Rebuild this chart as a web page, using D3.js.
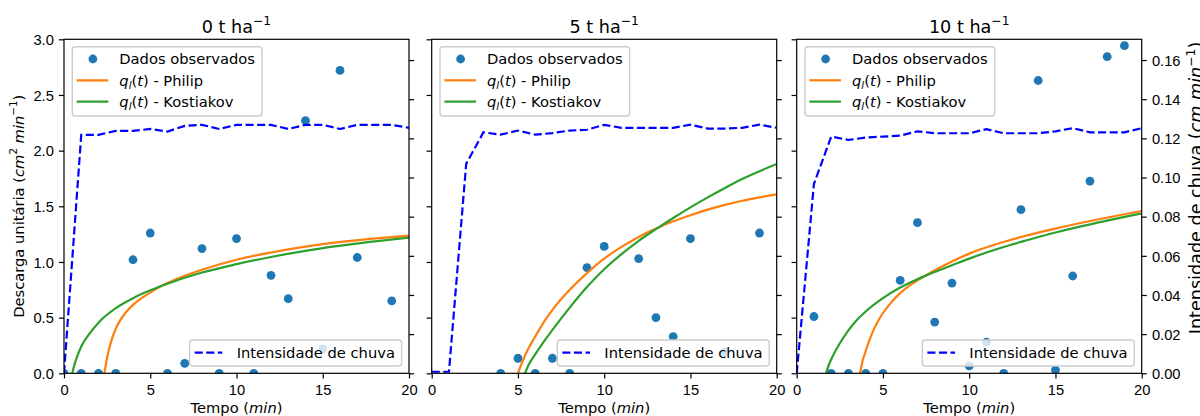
<!DOCTYPE html>
<html>
<head>
<meta charset="utf-8">
<title>Descarga unitária x tempo</title>
<script src="https://d3js.org/d3.v7.min.js"></script>
<style>
    html, body { margin: 0; padding: 0; background: #fff; }
    svg { display: block; font-family: "DejaVu Sans", sans-serif; }
    .tick text { font-size: 14.7px; fill: #000; }
    .tick line { stroke: #000; stroke-width: 1.2px; }
    .frame { fill: none; stroke: #000; stroke-width: 1.2px; }
    .leg-box { fill: #fff; fill-opacity: 0.8; stroke: #ccc; stroke-width: 1.4px; }
    .leg-text { font-size: 14.7px; fill: #000; }
    .title { font-size: 17.6px; text-anchor: middle; }
    .label { font-size: 14.7px; text-anchor: middle; }
</style>
</head>
<body>
<svg width="1200" height="416"></svg>
<script>
    // tempo (min)
    let tempo = [0, 1, 2, 3, 4, 5, 6, 7, 8, 9, 10, 11, 12, 13, 14, 15, 16, 17, 18, 19, 20];
    let titulos = ['0', '5', '10'];

    // dados observados (cm2 min-1), null = sem ponto
    let obs0  = [0, 0, 0, 0, 1.02, 1.26, 0, 0.09, 1.12, 0, 1.21, 0, 0.88, 0.67, 2.27, 0.22, 2.72, 1.04, null, 0.65, null];
    let obs5  = [null, null, null, null, 0, 0.135, 0, 0.135, 0, 0.95, 1.14, null, 1.03, 0.50, 0.33, 1.21, null, 0.19, null, 1.26, null];
    let obs10 = [null, 0.51, 0, 0, 0, 0, 0.835, 1.353, 0.46, 0.81, 0.066, 0.28, 0, 1.47, 2.63, 0.03, 0.874, 1.727, 2.844, 2.943, null];

    // curvas ajustadas [t, q]
    let philip0 = [[2.34, 0], [2.5, 0.14], [2.76, 0.30], [3, 0.40], [3.27, 0.48], [3.6, 0.55], [4, 0.615], [4.54, 0.68],
                   [5, 0.725], [5.66, 0.785], [6.5, 0.845], [8, 0.93], [10, 1.02], [12, 1.085], [15, 1.16], [20, 1.237]];
    let kost0   = [[0.48, 0], [0.6, 0.075], [0.75, 0.145], [1, 0.24], [1.5, 0.36], [2, 0.455], [3, 0.585], [4, 0.675],
                   [5, 0.745], [6, 0.805], [8, 0.905], [10, 0.98], [12, 1.045], [15, 1.125], [20, 1.219]];
    let philip5 = [[5, 0], [5.3, 0.12], [5.6, 0.22], [6, 0.33], [6.5, 0.46], [7, 0.57], [7.5, 0.665], [8, 0.75], [9, 0.9],
                   [10, 1.03], [11, 1.135], [12, 1.225], [12.7, 1.28], [13, 1.30], [14, 1.365], [15, 1.42], [16, 1.47],
                   [17, 1.513], [18, 1.55], [19, 1.58], [20, 1.608]];
    let kost5   = [[5.41, 0], [5.6, 0.07], [6, 0.17], [6.5, 0.285], [7, 0.39], [8, 0.59], [9, 0.775], [10, 0.935], [11, 1.07],
                   [12, 1.19], [13, 1.295], [14, 1.395], [15, 1.49], [16, 1.58], [17, 1.665], [18, 1.745], [19, 1.815], [20, 1.88]];
    let philip10 = [[3.67, 0], [3.8, 0.1], [4, 0.2], [4.4, 0.37], [4.79, 0.49], [5.5, 0.64], [6, 0.72], [7, 0.835], [7.44, 0.875],
                    [8, 0.925], [9, 1.005], [10, 1.075], [12, 1.18], [15, 1.30], [20, 1.458]];
    let kost10   = [[1.7, 0], [1.85, 0.07], [2, 0.125], [2.5, 0.27], [3, 0.385], [3.5, 0.48], [4, 0.555], [5, 0.675], [6, 0.77],
                    [7, 0.845], [7.44, 0.875], [8, 0.91], [9, 0.97], [10, 1.03], [11, 1.085], [12, 1.135], [13, 1.18],
                    [15, 1.265], [17.5, 1.355], [20, 1.437]];

    // intensidade de chuva (cm min-1)
    let chuva0  = [0, 0.1218, 0.1218, 0.1238, 0.1238, 0.1248, 0.1235, 0.1264, 0.1269, 0.1248, 0.1269, 0.1269, 0.1269, 0.1248, 0.1269, 0.1269, 0.1248, 0.1269, 0.1269, 0.1269, 0.1254];
    let chuva5  = [0.0008, 0.0008, 0.107, 0.1231, 0.1219, 0.124, 0.1219, 0.1227, 0.124, 0.1244, 0.1269, 0.1254, 0.1254, 0.1254, 0.1254, 0.127, 0.125, 0.125, 0.1254, 0.127, 0.1254];
    let chuva10 = [0, 0.0968, 0.1209, 0.1192, 0.1204, 0.1209, 0.1214, 0.1236, 0.1226, 0.1226, 0.1226, 0.1247, 0.1226, 0.1226, 0.1226, 0.1236, 0.1252, 0.1231, 0.1231, 0.1231, 0.1252];

    let xTicks = [0, 5, 10, 15, 20];
    let yTicks = [0, 0.5, 1, 1.5, 2, 2.5, 3];
    let rTicks = [0, 0.02, 0.04, 0.06, 0.08, 0.10, 0.12, 0.14, 0.16];

    let paineis = [
        {titulo: titulos[0], obs: obs0, philip: philip0, kost: kost0, chuva: chuva0},
        {titulo: titulos[1], obs: obs5, philip: philip5, kost: kost5, chuva: chuva5},
        {titulo: titulos[2], obs: obs10, philip: philip10, kost: kost10, chuva: chuva10}
    ];

    let svg = d3.select('svg');
    let lefts = [64, 431.7, 796.7];
    let W = 345, yTop = 39.3, yBot = 373.3;
    let fs = 14.7;

    let y = d3.scaleLinear().domain([0, 3]).range([yBot, yTop]);
    let yR = d3.scaleLinear().domain([0, 0.1706]).range([yBot, yTop]);

    // texto com italico / sobrescrito / subscrito
    function richText(sel, segs, size) {
        let shift = 0;
        segs.forEach(s => {
            let ts = sel.append('tspan').text(s.t);
            let target = s.sup ? -0.42 * size : (s.sub ? 0.22 * size : 0);
            ts.attr('dy', target - shift);
            shift = target;
            if (s.sup || s.sub) ts.attr('font-size', 0.7 * size);
            if (s.i) ts.attr('font-style', 'italic');
        });
    }

    let legLabels = [
        [{t: 'Dados observados'}],
        [{t: 'q', i: true}, {t: 'l', i: true, sub: true}, {t: '('}, {t: 't', i: true}, {t: ') - Philip'}],
        [{t: 'q', i: true}, {t: 'l', i: true, sub: true}, {t: '('}, {t: 't', i: true}, {t: ') - Kostiakov'}]
    ];

    paineis.forEach((p, i) => {
        let x0 = lefts[i];
        let x = d3.scaleLinear().domain([0, 20]).range([x0, x0 + W]);
        let g = svg.append('g');
        let clipId = 'clip' + i;
        svg.append('clipPath').attr('id', clipId)
            .append('rect').attr('x', x0).attr('y', yTop).attr('width', W).attr('height', yBot - yTop);

        // eixos
        g.append('g').attr('transform', `translate(0,${yBot})`)
            .call(d3.axisBottom(x).tickValues(xTicks).tickFormat(d3.format('d'))
                .tickSize(5.1).tickPadding(5.1).tickSizeOuter(0));
        g.append('g').attr('transform', `translate(${x0},0)`)
            .call(d3.axisLeft(y).tickValues(yTicks).tickFormat(i == 0 ? d3.format('.1f') : () => '')
                .tickSize(5.1).tickPadding(5.1).tickSizeOuter(0));
        g.append('g').attr('transform', `translate(${x0 + W},0)`)
            .call(d3.axisRight(yR).tickValues(rTicks).tickFormat(i == 2 ? d3.format('.2f') : () => '')
                .tickSize(5.1).tickPadding(5.1).tickSizeOuter(0));
        g.selectAll('.domain').remove();
        g.selectAll('.tick text').attr('dy', function() {
            return d3.select(this).attr('dy') == '0.71em' ? '0.76em' : '0.36em';
        });

        // dados observados
        let pts = tempo.map((t, k) => ({t: t, q: p.obs[k]})).filter(d => d.q != null);
        let plot = g.append('g').attr('clip-path', `url(#${clipId})`);
        plot.selectAll('circle').data(pts).join('circle')
            .attr('cx', d => x(d.t)).attr('cy', d => y(d.q))
            .attr('r', 4.4).attr('fill', '#1f77b4');

        let curva = d3.line().x(d => x(d[0])).y(d => y(d[1])).curve(d3.curveMonotoneX);
        plot.append('path').datum(p.philip).attr('d', curva)
            .attr('fill', 'none').attr('stroke', '#ff7f0e').attr('stroke-width', 2.2);
        plot.append('path').datum(p.kost).attr('d', curva)
            .attr('fill', 'none').attr('stroke', '#2ca02c').attr('stroke-width', 2.2);

        // legenda 1
        let lx = x0 + 8.3, ly = yTop + 7.4;
        let leg1 = g.append('g');
        let box1 = leg1.append('rect').attr('class', 'leg-box')
            .attr('x', lx).attr('y', ly).attr('height', 69.3).attr('rx', 3);
        let maxW = 0;
        legLabels.forEach((segs, k) => {
            let cy = ly + 12.3 + k * 21.3;
            if (k == 0) {
                leg1.append('circle').attr('cx', lx + 20.6).attr('cy', cy).attr('r', 4.4).attr('fill', '#1f77b4');
            } else {
                leg1.append('line').attr('x1', lx + 4.4).attr('x2', lx + 36).attr('y1', cy).attr('y2', cy)
                    .attr('stroke', k == 1 ? '#ff7f0e' : '#2ca02c').attr('stroke-width', 2.2);
            }
            let txt = leg1.append('text').attr('class', 'leg-text')
                .attr('x', lx + 47).attr('y', cy + 0.36 * fs);
            richText(txt, segs, fs);
            maxW = Math.max(maxW, txt.node().getBBox().width);
        });
        box1.attr('width', 47 + maxW + 7);

        // eixo secundario: intensidade de chuva
        let linhaChuva = d3.line().x((d, k) => x(tempo[k])).y(d => yR(d));
        g.append('path').datum(p.chuva).attr('d', linhaChuva).attr('clip-path', `url(#${clipId})`)
            .attr('fill', 'none').attr('stroke', '#0000ff').attr('stroke-width', 2.2)
            .attr('stroke-dasharray', '8.1,3.5');

        // legenda 2
        let leg2 = g.append('g');
        let bBot = yBot - 7.3, bH = 26, cy2 = bBot - 13.3;
        let box2 = leg2.append('rect').attr('class', 'leg-box')
            .attr('y', bBot - bH).attr('height', bH).attr('rx', 3);
        let l2 = leg2.append('line').attr('y1', cy2).attr('y2', cy2)
            .attr('stroke', '#0000ff').attr('stroke-width', 2.2).attr('stroke-dasharray', '8.1,3.5');
        let t2 = leg2.append('text').attr('class', 'leg-text').attr('y', cy2 + 0.36 * fs).text('Intensidade de chuva');
        let w2 = t2.node().getBBox().width;
        let bx = x0 + W - 7.4 - (47 + w2 + 6.7);
        box2.attr('x', bx).attr('width', 47 + w2 + 6.7);
        l2.attr('x1', bx + 5).attr('x2', bx + 32.7);
        t2.attr('x', bx + 47);

        // moldura
        g.append('rect').attr('class', 'frame').attr('x', x0).attr('y', yTop).attr('width', W).attr('height', yBot - yTop);

        // titulo
        let tt = g.append('text').attr('class', 'title').attr('x', x0 + W / 2).attr('y', 32.5);
        richText(tt, [{t: p.titulo + ' t ha'}, {t: '\u22121', sup: true}], 17.6);

        // rotulo x
        let xl = g.append('text').attr('class', 'label').attr('x', x0 + W / 2).attr('y', 413);
        richText(xl, [{t: 'Tempo ('}, {t: 'min', i: true}, {t: ')'}], fs);
    });

    // rotulos y
    let yl = svg.append('text').attr('class', 'label')
        .attr('transform', `translate(23.5,${(yTop + yBot) / 2}) rotate(-90)`);
    richText(yl, [{t: 'Descarga unitária ('}, {t: 'cm', i: true}, {t: '2', sup: true}, {t: ' '},
        {t: 'min', i: true}, {t: '\u22121', sup: true}, {t: ')'}], fs);

    let yr = svg.append('text').attr('class', 'label').style('font-size', '17.6px')
        .attr('transform', `translate(1202,188) rotate(-90)`);
    richText(yr, [{t: 'Intensidade de chuva ('}, {t: 'cm min', i: true}, {t: '\u22121', sup: true}, {t: ')'}], 17.6);
</script>
</body>
</html>
